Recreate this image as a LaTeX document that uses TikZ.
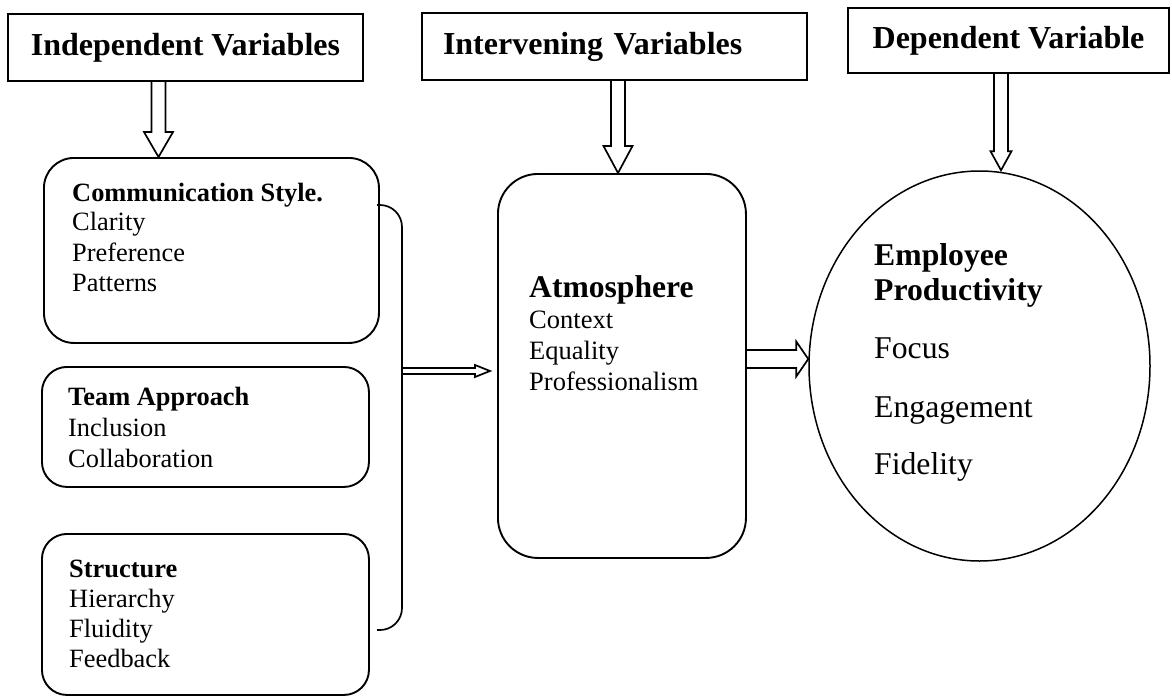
\documentclass[tikz,border=0pt]{standalone}
\usepackage{fontspec}
\setmainfont{Liberation Serif}
\usetikzlibrary{shapes.geometric,calc}
\newcommand{\fsz}[1]{\fontsize{#1}{#1}\selectfont}
\newcommand{\blkdown}[6]{\draw[blk] let \p1=(#1),\p2=(#2) in (#3-#4,\y1) -- (#3-#4,\y2+#6) -- (#3-#5,\y2+#6) -- (#3,\y2) -- (#3+#5,\y2+#6) -- (#3+#4,\y2+#6) -- (#3+#4,\y1);}
\newcommand{\blkright}[6]{\draw[blk] let \p1=(#1),\p2=(#2) in (\x1,#3+#4) -- (\x2-#6,#3+#4) -- (\x2-#6,#3+#5) -- (\x2,#3) -- (\x2-#6,#3-#5) -- (\x2-#6,#3-#4) -- (\x1,#3-#4);}
\begin{document}
\begin{tikzpicture}[x=1pt,y=-1pt,
  hdr/.style={draw,line width=1.9pt,inner sep=0pt,font=\fsz{32}\bfseries},
  rbox/.style={draw,line width=1.9pt,anchor=north west,inner sep=0pt},
  lbl/.style={anchor=base west,inner sep=0pt},
  lhead/.style={lbl,font=\fsz{26.4}\bfseries},
  ltext/.style={lbl,font=\fsz{26.4}},
  bhead/.style={lbl,font=\fsz{31.7}\bfseries},
  btext/.style={lbl,font=\fsz{31.7}},
  blk/.style={line width=1.7pt,line join=miter}
]
\fill[white] (0,0) rectangle (1172,696);
\useasboundingbox (0,0) rectangle (1172,696);

% header boxes
\node[hdr,minimum width=355,minimum height=67] (h1) at (185.5,47.5) {Independent Variables};
\node[hdr,minimum width=385,minimum height=67,text width=343,align=left] (h2) at (614.5,46.5) {Intervening Variables};
\node[hdr,minimum width=321,minimum height=65] (h3) at (1008.5,40.5) {Dependent Variable};

% boxes
\node[rbox,rounded corners=30pt,minimum width=335,minimum height=185] (comm) at (43,157) {};
\node[rbox,rounded corners=25pt,minimum width=327,minimum height=120] (team) at (41,366) {};
\node[rbox,rounded corners=25pt,minimum width=327,minimum height=161] (strc) at (41,533) {};
\node[rbox,rounded corners=40pt,minimum width=248,minimum height=384] (atm) at (497,173) {};
\node[draw,ellipse,line width=1.5pt,minimum width=341,minimum height=390,inner sep=0pt] (ep) at (979.5,366) {};

% texts
\node[lhead] (commh) at (72,201) {Communication Style.};
\node[ltext] (comm1) at (72,230.5) {Clarity};
\node[ltext] (comm2) at (72,261) {Preference};
\node[ltext] (comm3) at (72,291.5) {Patterns};

\node[lhead] (teamh) at (68,405) {Team Approach};
\node[ltext] (team1) at (68,436) {Inclusion};
\node[ltext] (team2) at (68,467) {Collaboration};

\node[lhead] (strch) at (69,577) {Structure};
\node[ltext] (strc1) at (69,607) {Hierarchy};
\node[ltext] (strc2) at (69,637) {Fluidity};
\node[ltext] (strc3) at (69,667) {Feedback};

\node[lbl,font=\fsz{31.6}\bfseries] (atmh) at (529,297) {Atmosphere};
\node[lbl,font=\fsz{26.5}] (atm1) at (529,328) {Context};
\node[lbl,font=\fsz{26.5}] (atm2) at (529,359) {Equality};
\node[lbl,font=\fsz{26.5}] (atm3) at (529,390) {Professionalism};

\node[bhead] (eph1) at (874,265) {Employee};
\node[bhead] (eph2) at (874,300) {Productivity};
\node[btext] (ep1) at (874,358) {Focus};
\node[btext] (ep2) at (874,417) {Engagement};
\node[btext] (ep3) at (874,474) {Fidelity};

% bracket
\coordinate (bt) at (377,205);
\coordinate (bb) at (377,630);
\coordinate (bm) at (402,371);
\coordinate (btip) at (490,371);
\draw[line width=1.7pt,rounded corners=22pt] (bt) -- (bt -| bm) -- (bb -| bm) -- (bb);

% block arrows
\blkdown{h1.south}{comm.north}{158.5pt}{7pt}{14.5pt}{25pt}
\blkdown{h2.south}{atm.north}{618pt}{7pt}{14.5pt}{27pt}
\blkdown{h3.south}{ep.north}{1001pt}{7pt}{10.5pt}{19pt}
\blkright{atm.east}{ep.west}{-359pt}{9pt}{17.5pt}{12pt}
\blkright{bm}{btip}{-371pt}{3pt}{6pt}{15pt}
\end{tikzpicture}
\end{document}
